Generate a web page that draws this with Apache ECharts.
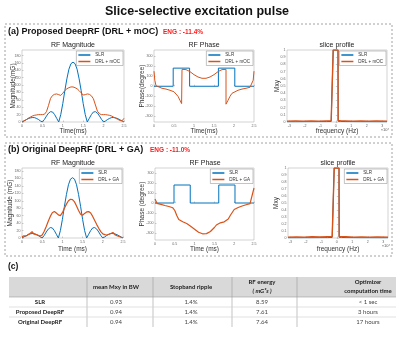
<!DOCTYPE html>
<html>
<head>
<meta charset="utf-8">
<script src="https://cdn.jsdelivr.net/npm/echarts@6/dist/echarts.min.js"></script>
<style>
html, body { margin: 0; padding: 0; background: #fff; }
#main { width: 400px; height: 338px; }
</style>
</head>
<body>
<div id="main"></div>
<script>
// ---- data ----
// RF waveform time samples (ms)
var timeMs = [0, 0.05, 0.1, 0.15, 0.2, 0.25, 0.3, 0.35, 0.4, 0.45,
    0.5, 0.55, 0.6, 0.65, 0.7, 0.75, 0.8, 0.85, 0.9, 0.95,
    1.0, 1.05, 1.1, 1.15, 1.2, 1.25, 1.3, 1.35, 1.4, 1.45,
    1.5, 1.55, 1.6, 1.65, 1.7, 1.75, 1.8, 1.85, 1.9, 1.95,
    2.0, 2.05, 2.1, 2.15, 2.2, 2.25, 2.3, 2.35, 2.4, 2.45, 2.5];
// RF magnitude (mG)
var slrMag = [0, 3, 6, 9, 11, 12, 12, 10, 7, 3,
    0, 7, 16, 24, 28, 27, 20, 10, 0, 20,
    50, 85, 117, 143, 158, 162, 158, 143, 117, 85,
    50, 20, 0, 10, 20, 27, 28, 24, 16, 7,
    0, 3, 7, 10, 12, 12, 11, 9, 6, 3, 0];
var mocMag = [0, 3, 6, 10, 13, 16, 18, 19, 20, 20,
    20, 21, 28, 45, 64, 72, 75, 76, 74, 72,
    78, 85, 90, 93, 95, 95, 93, 90, 85, 79,
    73, 74, 76, 75, 71, 63, 46, 29, 22, 20,
    20, 20, 19, 18, 16, 13, 10, 7, 4, 3, 10];
var gaMag = [3, 6, 5, 9, 12, 17, 10, 9, 7, 5,
    8, 18, 31, 45, 58, 68, 71, 67, 62, 60,
    68, 80, 91, 100, 104, 103, 97, 86, 74, 64,
    61, 66, 70, 71, 67, 58, 47, 36, 26, 17,
    11, 9, 8, 10, 12, 15, 9, 6, 4, 2, 1];
// RF phase (degree)
var slrPhaseT = [0, 0.48, 0.48, 0.89, 0.89, 1.61, 1.61, 2.02, 2.02, 2.5];
var slrPhase = [0, 0, 180, 180, 0, 0, 180, 180, 0, 0];
var mocPhaseT = [0, 0.02, 0.05, 0.1, 0.2, 0.3, 0.4, 0.5, 0.55, 0.6,
    0.65, 0.69, 0.7, 0.7, 0.75, 0.8, 0.9, 1.0, 1.1, 1.2,
    1.25, 1.3, 1.4, 1.5, 1.6, 1.7, 1.75, 1.8, 1.8, 1.81,
    1.85, 1.9, 1.95, 2.0, 2.1, 2.2, 2.3, 2.4, 2.45, 2.48, 2.5];
var mocPhase = [150, 60, 5, -10, -20, -28, -40, -55, -70, -100,
    -140, -172, -178, 168, 170, 165, 145, 115, 92, 79,
    76, 79, 92, 115, 145, 165, 170, 168, -178, -172,
    -140, -100, -70, -55, -40, -28, -20, -10, 5, 60, 150];
var gaPhase = [40, -3, -8, -14, -18, -25, -28, -35, -40, -48,
    -75, -125, -165, -180, -188, -195, -205, -218, -232, -248,
    -262, -280, -293, -302, -308, -310, -306, -298, -285, -268,
    -245, -220, -205, -198, -193, -188, -178, -160, -125, -95,
    -65, -52, -45, -38, -30, -24, -18, -12, -6, 0, 150];
// slice profile (frequency in 1e4 Hz)
var freqHz = [-3.15, -2.6, -2.1, -1.6, -1.1, -0.6, -0.3, -0.18, -0.17, 0.14, 0.15, 0.3, 0.6, 1.1, 1.6, 2.1, 2.6, 3.3];
var slrProfile = [0.003, 0.003, 0.004, 0.004, 0.005, 0.006, 0.008, 0.01, 1, 1, 0.01, 0.008, 0.006, 0.005, 0.004, 0.004, 0.003, 0.003];
var mocProfile = [0.012, 0.014, 0.011, 0.015, 0.012, 0.016, 0.018, 0.02, 1, 1, 0.02, 0.018, 0.016, 0.012, 0.015, 0.011, 0.014, 0.012];
var gaProfile = [0.013, 0.016, 0.012, 0.017, 0.014, 0.018, 0.02, 0.022, 1, 1, 0.022, 0.019, 0.017, 0.013, 0.016, 0.012, 0.015, 0.013];
// tick labels
var timeTicks = [0, 0.5, 1, 1.5, 2, 2.5];
var magTicks = [0, 20, 40, 60, 80, 100, 120, 140, 160, 180];
var phaseTicks = [-300, -200, -100, 0, 100, 200, 300];
var freqTicks = [-3, -2, -1, 0, 1, 2, 3];
var mxyTicks = [0, 0.1, 0.2, 0.3, 0.4, 0.5, 0.6, 0.7, 0.8, 0.9, 1];
// table (c)
var tableHead = ['', 'mean Mxy in BW', 'Stopband ripple', 'RF energy', 'Optimizer'];
var rowNames = ['SLR', 'Proposed DeepRF', 'Original DeepRF'];
var meanMxy = ['0.93', '0.94', '0.94'];
var ripple = ['1.4%', '1.4%', '1.4%'];
var rfEnergy = ['8.59', '7.61', '7.64'];
var compTime = ['< 1 sec', '3 hours', '17 hours'];

var FONT = 'Liberation Sans';
var TFONT = 'Lato';
var BLUE = '#0072BD', ORANGE = '#D95319';

function pairs(xs, ys) {
    var out = [];
    for (var i = 0; i < xs.length; i++) out.push([xs[i], ys[i]]);
    return out;
}

var grids = [
    {left: 22, top: 50, width: 102, height: 72},
    {left: 154, top: 50, width: 100, height: 72},
    {left: 287, top: 50, width: 100, height: 72},
    {left: 22, top: 168, width: 101, height: 70},
    {left: 155, top: 168, width: 99, height: 72},
    {left: 288, top: 168, width: 100, height: 70}
];
grids.forEach(function (g) {
    g.show = true;
    g.borderColor = '#b5b5b5';
    g.borderWidth = 0.6;
    g.backgroundColor = '#fff';
});

function axis(i, min, max, ticks, name, gap) {
    return {
        gridIndex: i, type: 'value', min: min, max: max,
        name: name, nameLocation: 'middle', nameGap: gap, nameMoveOverlap: false,
        nameTextStyle: {fontSize: 6.5, color: '#333', fontFamily: FONT},
        axisLine: {show: false},
        axisTick: {show: true, inside: true, length: 1.5, customValues: ticks,
            lineStyle: {color: '#999', width: 0.5}},
        axisLabel: {fontSize: 3.6, color: '#666', margin: 1.5, fontFamily: FONT, customValues: ticks},
        splitLine: {show: false}
    };
}

var xAxes = [
    axis(0, 0, 2.5, timeTicks, 'Time(ms)', 6),
    axis(1, 0, 2.5, timeTicks, 'Time(ms)', 6),
    axis(2, -3.15, 3.3, freqTicks, 'frequency (Hz)', 6),
    axis(3, 0, 2.5, timeTicks, 'Time (ms)', 8),
    axis(4, 0, 2.5, timeTicks, 'Time (ms)', 6),
    axis(5, -3.15, 3.3, freqTicks, 'frequency (Hz)', 8)
];
var yAxes = [
    axis(0, 0, 195, magTicks, 'Magnitude(mG)', 5.5),
    axis(1, -355, 360, phaseTicks, 'Phase(degree)', 8.5),
    axis(2, 0, 1, mxyTicks, 'Mxy', 6),
    axis(3, 0, 188, magTicks, 'Magnitude (mG)', 8),
    axis(4, -370, 350, phaseTicks, 'Phase (degree)', 9.5),
    axis(5, 0, 1, mxyTicks, 'Mxy', 8.5)
];

function line(i, name, data, color, width) {
    return {
        type: 'line', name: name, xAxisIndex: i, yAxisIndex: i,
        data: data, symbol: 'none', showSymbol: false, animation: false,
        lineStyle: {color: color, width: width}, itemStyle: {color: color}
    };
}

var series = [
    line(0, 'SLR', pairs(timeMs, slrMag), BLUE, 1),
    line(0, 'DRL + mOC', pairs(timeMs, mocMag), ORANGE, 1),
    line(1, 'SLR', pairs(slrPhaseT, slrPhase), BLUE, 1),
    line(1, 'DRL + mOC', pairs(mocPhaseT, mocPhase), ORANGE, 1),
    line(2, 'SLR', pairs(freqHz, slrProfile), BLUE, 1),
    line(2, 'DRL + mOC', pairs(freqHz, mocProfile), ORANGE, 1.4),
    line(3, 'SLR', pairs(timeMs, slrMag), BLUE, 1),
    line(3, 'DRL + GA', pairs(timeMs, gaMag), ORANGE, 1.2),
    line(4, 'SLR', pairs(slrPhaseT, slrPhase), BLUE, 1),
    line(4, 'DRL + GA', pairs(timeMs, gaPhase), ORANGE, 1.2),
    line(5, 'SLR', pairs(freqHz, slrProfile), BLUE, 1),
    line(5, 'DRL + GA', pairs(freqHz, gaProfile), ORANGE, 1.4)
];

function legendAt(names, rightEdge, top) {
    return {
        data: names, orient: 'vertical', right: 400 - rightEdge + 1, top: top,
        icon: 'rect', itemWidth: 12, itemHeight: 1.5, itemGap: 1.5,
        padding: [1.5, 3, 1.5, 2], selectedMode: false,
        textStyle: {fontSize: 4.5, color: '#333', fontFamily: FONT},
        borderColor: '#888', borderWidth: 0.5, backgroundColor: '#fff'
    };
}
var legends = [
    legendAt(['SLR', 'DRL + mOC'], 124, 51),
    legendAt(['SLR', 'DRL + mOC'], 254, 51),
    legendAt(['SLR', 'DRL + mOC'], 387, 51),
    legendAt(['SLR', 'DRL + GA'], 123, 169),
    legendAt(['SLR', 'DRL + GA'], 254, 169),
    legendAt(['SLR', 'DRL + GA'], 388, 169)
];

function txt(text, x, y, size, opt) {
    opt = opt || {};
    var font = (opt.italic ? 'italic ' : '') + (opt.bold ? 'bold ' : '') + size + 'px ' + (opt.family || FONT);
    return {
        type: 'text', x: x, y: y, z: 10,
        style: {
            text: text, font: font, fill: opt.color || '#222',
            textAlign: opt.align || 'center', textVerticalAlign: 'middle',
            align: opt.align || 'center', verticalAlign: 'middle'
        }
    };
}

var graphics = [
    txt('Slice-selective excitation pulse', 197, 12, 12.5, {bold: true, color: '#111'}),
    {type: 'rect', shape: {x: 5, y: 24, width: 387, height: 113},
        style: {fill: 'none', stroke: '#8c8c8c', lineWidth: 0.8, lineDash: [2, 2]}},
    {type: 'rect', shape: {x: 5, y: 143, width: 387, height: 113},
        style: {fill: 'none', stroke: '#8c8c8c', lineWidth: 0.8, lineDash: [2, 2]}},
    txt('(a) Proposed DeepRF (DRL + mOC)', 8, 32, 9, {bold: true, align: 'left', color: '#111'}),
    txt('ENG : -11.4%', 163, 32.5, 6.5, {bold: true, align: 'left', color: '#ff1a1a'}),
    txt('(b) Original DeepRF (DRL + GA)', 8, 150, 9, {bold: true, align: 'left', color: '#111'}),
    txt('ENG : -11.0%', 150, 150.5, 6.5, {bold: true, align: 'left', color: '#ff1a1a'}),
    txt('RF Magnitude', 73, 45, 7),
    txt('RF Phase', 204, 45, 7),
    txt('slice profile', 337, 45, 7),
    txt('RF Magnitude', 73, 163, 7),
    txt('RF Phase', 205, 163, 7),
    txt('slice profile', 338, 163, 7),
    txt('×10⁴', 385, 130, 4, {color: '#555'}),
    txt('×10⁴', 386, 246, 4, {color: '#555'}),
    txt('(c)', 8, 267, 8.5, {bold: true, align: 'left', color: '#111'})
];

// table (c)
var colX = [9, 87, 153, 232, 297, 396];
var textX = [40, 116, 191, 262, 368];
var headTop = 277, headBot = 297, rowH = 10;
graphics.push({type: 'rect', shape: {x: colX[0], y: headTop, width: colX[5] - colX[0], height: headBot - headTop},
    style: {fill: '#d9d9d9'}});
for (var c = 1; c < 5; c++) {
    graphics.push({type: 'line', shape: {x1: colX[c], y1: headTop, x2: colX[c], y2: headBot + 3 * rowH},
        style: {stroke: '#9a9a9a', lineWidth: 0.6}});
}
for (var r = 0; r < 3; r++) {
    graphics.push({type: 'line', shape: {x1: colX[0], y1: headBot + r * rowH, x2: colX[5], y2: headBot + r * rowH},
        style: {stroke: r === 0 ? '#9a9a9a' : '#cfcfcf', lineWidth: 0.6}});
}
var hy = (headTop + headBot) / 2;
graphics.push(txt(tableHead[1], textX[1], hy, 6, {bold: true, family: TFONT}));
graphics.push(txt(tableHead[2], textX[2], hy, 6, {bold: true, family: TFONT}));
graphics.push(txt(tableHead[3], textX[3], hy - 4.5, 6, {bold: true, family: TFONT}));
graphics.push(txt('( mG²s )', textX[3], hy + 4, 6, {bold: true, italic: true, family: TFONT}));
graphics.push(txt(tableHead[4], textX[4], hy - 4.5, 6, {bold: true, family: TFONT}));
graphics.push(txt('computation time', textX[4], hy + 4, 6, {bold: true, family: TFONT}));
for (r = 0; r < 3; r++) {
    var ry = headBot + r * rowH + rowH / 2;
    graphics.push(txt(rowNames[r], textX[0], ry, 6, {bold: true, family: TFONT}));
    graphics.push(txt(meanMxy[r], textX[1], ry, 6, {family: TFONT, color: '#444'}));
    graphics.push(txt(ripple[r], textX[2], ry, 6, {family: TFONT, color: '#444'}));
    graphics.push(txt(rfEnergy[r], textX[3], ry, 6, {family: TFONT, color: '#444'}));
    graphics.push(txt(compTime[r], textX[4], ry, 6, {family: TFONT, color: '#444'}));
}

var chart = echarts.init(document.getElementById('main'));
chart.setOption({
    animation: false,
    backgroundColor: '#fff',
    grid: grids,
    xAxis: xAxes,
    yAxis: yAxes,
    legend: legends,
    series: series,
    graphic: graphics
});
</script>
</body>
</html>
